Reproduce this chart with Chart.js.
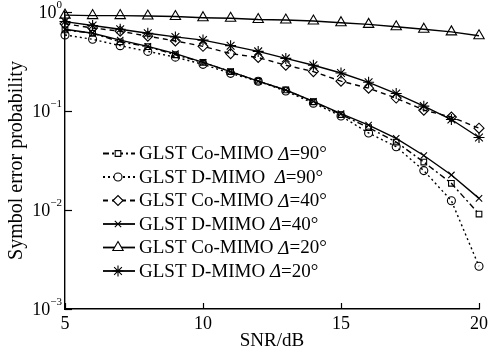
<!DOCTYPE html>
<html lang="zh-CN">
<head>
<meta charset="UTF-8">
<title>GLST symbol error probability</title>
<script src="https://cdn.jsdelivr.net/npm/chart.js@4.4.0/dist/chart.umd.min.js"></script>
<style>
  html, body { margin: 0; padding: 0; background: #fff; }
  #wrap { width: 492px; height: 353px; }
</style>
</head>
<body>
<div id="wrap"><canvas id="serChart" width="492" height="353"></canvas></div>
<script>
// SNR in dB
const snr = [5, 6, 7, 8, 9, 10, 11, 12, 13, 14, 15, 16, 17, 18, 19, 20];

// symbol error probability
const coMimo90 = [0.66, 0.61, 0.50, 0.446, 0.37, 0.31, 0.25, 0.20, 0.163, 0.124, 0.092, 0.068, 0.0486, 0.0305, 0.0186, 0.0091];
const dMimo90  = [0.586, 0.53, 0.457, 0.40, 0.35, 0.296, 0.24, 0.20, 0.159, 0.12, 0.089, 0.06, 0.0436, 0.025, 0.0124, 0.0027];
const coMimo40 = [0.76, 0.69, 0.64, 0.57, 0.51, 0.45, 0.38, 0.347, 0.29, 0.25, 0.20, 0.17, 0.135, 0.102, 0.087, 0.067];
const dMimo40  = [0.67, 0.61, 0.52, 0.45, 0.38, 0.31, 0.25, 0.20, 0.163, 0.125, 0.094, 0.072, 0.053, 0.0355, 0.0226, 0.0131];
const coMimo20 = [0.93, 0.92, 0.92, 0.91, 0.90, 0.876, 0.864, 0.84, 0.83, 0.81, 0.78, 0.75, 0.71, 0.67, 0.63, 0.575];
const dMimo20  = [0.80, 0.73, 0.67, 0.61, 0.56, 0.52, 0.457, 0.40, 0.34, 0.29, 0.242, 0.195, 0.15, 0.112, 0.082, 0.054];

const seriesNames = [
  'GLST Co-MIMO Δ=90°',
  'GLST D-MIMO  Δ=90°',
  'GLST Co-MIMO Δ=40°',
  'GLST D-MIMO Δ=40°',
  'GLST Co-MIMO Δ=20°',
  'GLST D-MIMO Δ=20°'
];

const xTicks = [5, 10, 15, 20];
const yTicks = [1e-3, 1e-2, 1e-1, 1];
const yTickExp = ['-3', '-2', '-1', '0'];

const serif = '"Liberation Serif", "DejaVu Serif", serif';

function toPoints(values) {
  return values.map((v, i) => ({ x: snr[i], y: v }));
}

function series(label, values, style, radius, dash) {
  return {
    label: label,
    data: toPoints(values),
    borderColor: '#000',
    backgroundColor: 'rgba(0,0,0,0)',
    borderWidth: 1.4,
    borderDash: dash,
    pointStyle: style,
    pointRadius: radius,
    pointBorderColor: '#000',
    pointBackgroundColor: 'rgba(0,0,0,0)',
    pointBorderWidth: 1.1,
    tension: 0,
    clip: false
  };
}

// inward tick marks, 10^n labels and the line+marker legend
const axisDecor = {
  id: 'axisDecor',
  afterDraw(chart) {
    const ctx = chart.ctx;
    const xs = chart.scales.x, ys = chart.scales.y;
    const area = chart.chartArea;
    ctx.save();
    ctx.strokeStyle = '#000';
    ctx.lineWidth = 1.2;
    xTicks.forEach(t => {
      const px = Math.round(xs.getPixelForValue(t)) + 0.5;
      ctx.beginPath(); ctx.moveTo(px, area.bottom); ctx.lineTo(px, area.bottom - 6); ctx.stroke();
    });
    yTicks.forEach(t => {
      const py = Math.round(ys.getPixelForValue(t)) + 0.5;
      ctx.beginPath(); ctx.moveTo(area.left, py); ctx.lineTo(area.left + 7, py); ctx.stroke();
    });

    // y tick labels: "10" with a raised exponent
    ctx.fillStyle = '#000';
    ctx.textBaseline = 'middle';
    yTicks.forEach((t, i) => {
      const py = ys.getPixelForValue(t);
      ctx.font = '11px ' + serif;
      const expText = yTickExp[i].replace('-', '\u2212');
      const ew = ctx.measureText(expText).width;
      ctx.textAlign = 'left';
      ctx.fillText(expText, area.left - 3 - ew, py - 7);
      ctx.font = '18px ' + serif;
      ctx.textAlign = 'right';
      ctx.fillText('10', area.left - 3 - ew, py + 1);
    });
    ctx.restore();
  },
  afterDatasetsDraw(chart) {
    const ctx = chart.ctx;
    const x0 = 103, x1 = 135, mx = 118, tx = 139, y0 = 153.5, dy = 23.5;
    chart.data.datasets.forEach((ds, i) => {
      const y = y0 + i * dy;
      ctx.save();
      ctx.strokeStyle = '#000';
      ctx.lineWidth = 1.8;
      ctx.setLineDash(ds.borderDash || []);
      ctx.beginPath(); ctx.moveTo(x0, y); ctx.lineTo(x1, y); ctx.stroke();
      ctx.setLineDash([]);
      ctx.lineWidth = ds.pointBorderWidth;
      ctx.fillStyle = '#fff';
      if (Chart.helpers && Chart.helpers.drawPoint) {
        Chart.helpers.drawPoint(ctx, {
          pointStyle: ds.pointStyle, radius: ds.pointRadius, rotation: 0,
          borderWidth: ds.pointBorderWidth
        }, mx, y);
      }
      // text, with the italic delta
      const parts = ds.label.split('Δ');
      ctx.fillStyle = '#000';
      ctx.textAlign = 'left';
      ctx.textBaseline = 'middle';
      let cx = tx;
      ctx.font = '19px ' + serif;
      ctx.fillText(parts[0], cx, y + 1);
      cx += ctx.measureText(parts[0]).width;
      ctx.font = 'italic 19px ' + serif;
      ctx.fillText('Δ', cx, y + 1);
      cx += ctx.measureText('Δ').width;
      ctx.font = '19px ' + serif;
      ctx.fillText(parts[1], cx, y + 1);
      ctx.restore();
    });
  }
};

const ctx = document.getElementById('serChart').getContext('2d');
new Chart(ctx, {
  type: 'line',
  data: {
    datasets: [
      series(seriesNames[0], coMimo90, 'rect', 4, [6, 3, 2, 3]),
      series(seriesNames[1], dMimo90, 'circle', 4, [2, 3]),
      series(seriesNames[2], coMimo40, 'rectRot', 5, [5, 4]),
      series(seriesNames[3], dMimo40, 'crossRot', 4.5, []),
      series(seriesNames[4], coMimo20, 'triangle', 6, []),
      series(seriesNames[5], dMimo20, 'star', 5.5, [])
    ]
  },
  options: {
    responsive: false,
    animation: false,
    events: [],
    layout: { padding: { top: 12, right: 12, left: 0, bottom: 0 } },
    plugins: {
      legend: { display: false },
      tooltip: { enabled: false }
    },
    scales: {
      x: {
        type: 'linear',
        min: 5,
        max: 20,
        afterBuildTicks: scale => { scale.ticks = xTicks.map(v => ({ value: v })); },
        afterFit: scale => { scale.height = 44; },
        grid: { display: false, drawTicks: false },
        border: { display: true, color: '#000', width: 1.4 },
        ticks: {
          color: '#000',
          font: { family: serif, size: 18 },
          padding: 4,
          maxRotation: 0
        },
        title: {
          display: true,
          text: 'SNR/dB',
          color: '#000',
          font: { family: serif, size: 19 },
          padding: { top: 0, bottom: 1 }
        }
      },
      y: {
        type: 'logarithmic',
        min: 1e-3,
        max: 1,
        afterBuildTicks: scale => { scale.ticks = yTicks.map(v => ({ value: v })); },
        afterFit: scale => { scale.width = 65; },
        grid: { display: false },
        border: { display: true, color: '#000', width: 1.4 },
        ticks: { display: false },
        title: {
          display: true,
          text: 'Symbol error probability',
          color: '#000',
          font: { family: serif, size: 20 },
          padding: { top: 5, bottom: 0 }
        }
      }
    }
  },
  plugins: [axisDecor]
});
</script>
</body>
</html>
